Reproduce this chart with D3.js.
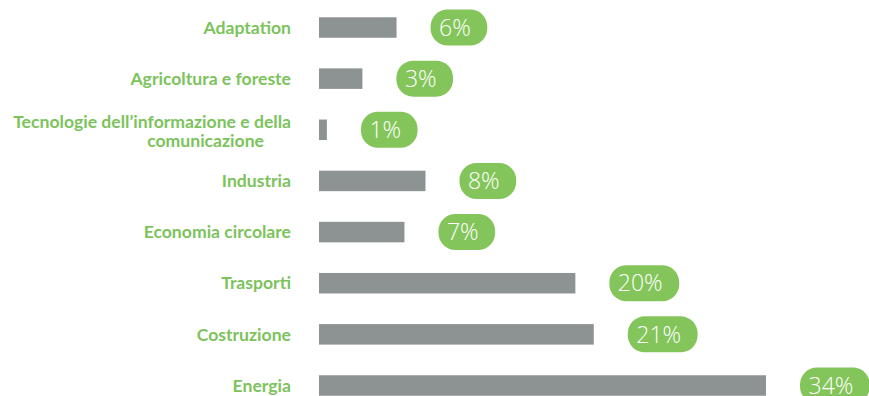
<!DOCTYPE html>
<html>
<head>
<meta charset="utf-8">
<script src="https://cdn.jsdelivr.net/npm/d3@7"></script>
<style>
  html, body { margin: 0; padding: 0; background: #ffffff; overflow: hidden; }
  svg { display: block; }
</style>
</head>
<body>
<svg id="chart" width="869" height="396"></svg>
<script>
// ---- data ----
const categories = [
  "Adaptation",
  "Agricoltura e foreste",
  "Tecnologie dell\u2019informazione e della comunicazione",
  "Industria",
  "Economia circolare",
  "Trasporti",
  "Costruzione",
  "Energia"
];
const labelLines = [
  ["Adaptation"],
  ["Agricoltura e foreste"],
  ["Tecnologie dell\u2019informazione e della", "comunicazione"],
  ["Industria"],
  ["Economia circolare"],
  ["Trasporti"],
  ["Costruzione"],
  ["Energia"]
];
const values = [5.9, 3.3, 0.6, 8.1, 6.5, 19.5, 20.9, 34.0];
const valueLabels = ["6%", "3%", "1%", "8%", "7%", "20%", "21%", "34%"];

// ---- layout ----
const svg = d3.select("#chart");
const barLeft = 319;
const barH = 20.5;
const labelRight = 291;
const pillGap = 34;
const pillH = 36;

const x = d3.scaleLinear().domain([0, 34]).range([barLeft, 766]);
const y = d3.scalePoint().domain(categories).range([27.5, 385.5]);

const rows = categories.map((c, i) => ({
  cat: c, value: values[i], label: valueLabels[i], lines: labelLines[i]
}));

// bars
svg.append("g").selectAll("rect")
  .data(rows).join("rect")
  .attr("x", x(0))
  .attr("y", d => y(d.cat) - barH / 2)
  .attr("width", d => x(d.value) - x(0))
  .attr("height", barH)
  .attr("fill", "#8d9393");

// category labels
const lab = svg.append("g")
  .attr("font-family", "Lato, 'Open Sans', sans-serif")
  .attr("font-weight", 700)
  .attr("font-size", 17.6)
  .attr("fill", "#7cc35c");

rows.forEach(d => {
  const cy = y(d.cat);
  const t = lab.append("text")
    .attr("text-anchor", "end")
    .attr("x", labelRight);
  if (d.lines.length === 1) {
    t.attr("y", cy).attr("dy", "0.35em").text(d.lines[0]);
  } else {
    t.attr("y", cy - 8);
    t.append("tspan")
      .attr("x", labelRight)
      .attr("dy", "0.35em")
      .text(d.lines[0]);
    t.append("tspan")
      .attr("x", labelRight - 27)
      .attr("dy", 19.5)
      .text(d.lines[1]);
  }
});

// value pills
const pills = svg.append("g");
rows.forEach(d => {
  const cy = y(d.cat);
  const g = pills.append("g");
  const rect = g.append("rect").attr("fill", "#83c55a");
  const t = g.append("text")
    .attr("font-family", "'Open Sans', sans-serif")
    .attr("font-weight", 300)
    .attr("font-size", 23)
    .attr("fill", "#ffffff")
    .attr("text-anchor", "middle")
    .attr("y", cy)
    .attr("dy", "0.36em")
    .text(d.label);
  const tw = t.node().getComputedTextLength();
  const px = x(d.value) + pillGap;
  const pw = tw + 25;
  rect.attr("x", px)
    .attr("y", cy - pillH / 2)
    .attr("width", pw)
    .attr("height", pillH)
    .attr("rx", 17).attr("ry", 17);
  t.attr("x", px + pw / 2 - 4);
});
</script>
</body>
</html>
